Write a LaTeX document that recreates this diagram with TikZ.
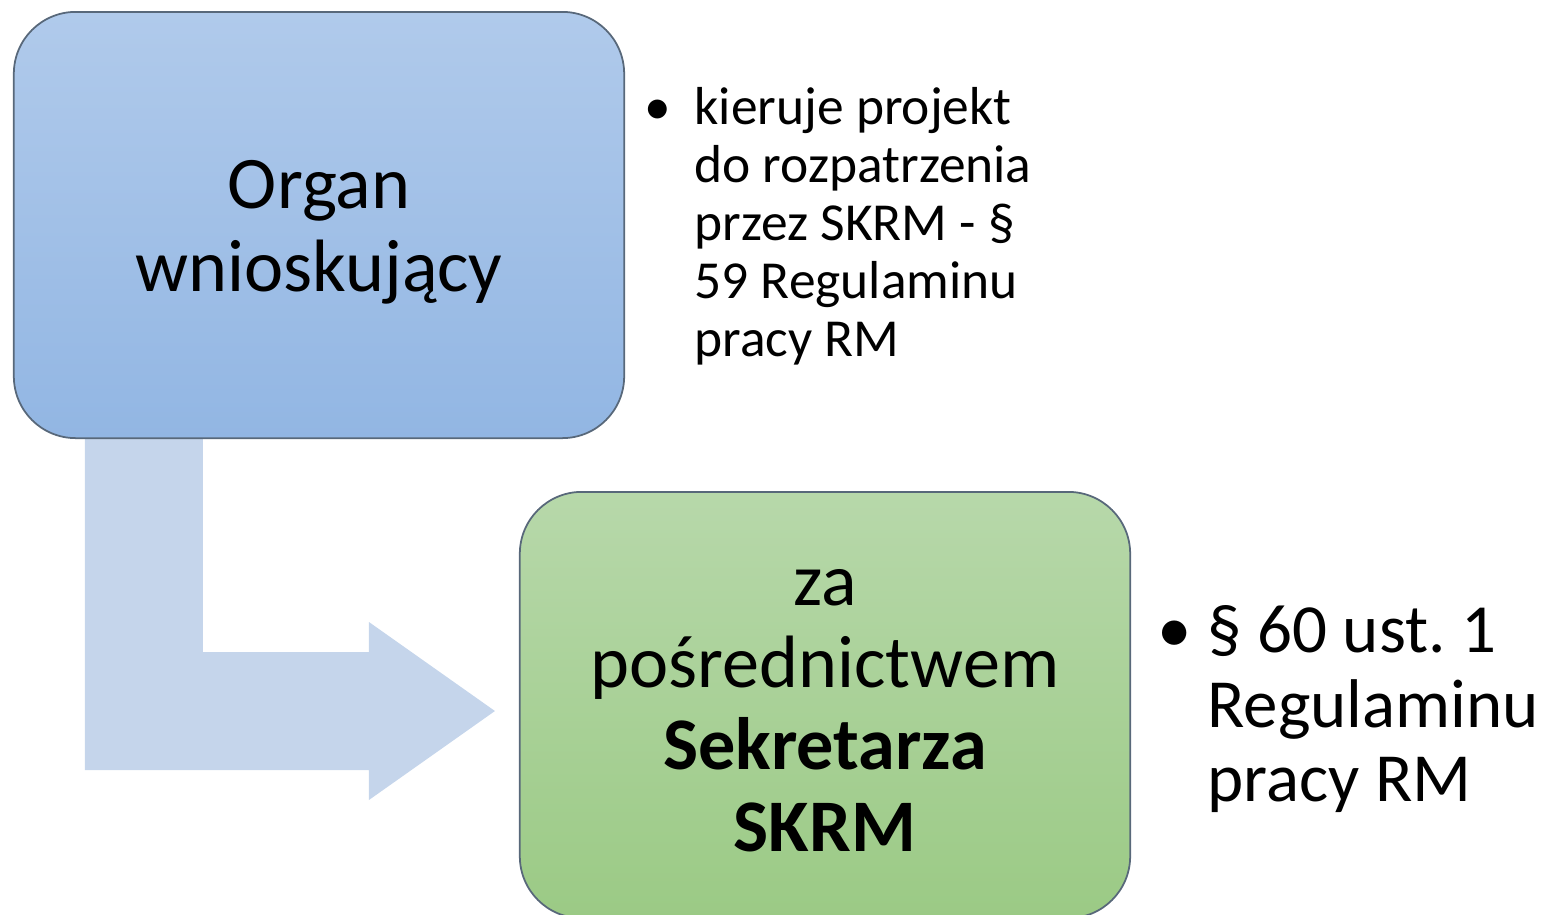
\documentclass[tikz,border=0pt]{standalone}
\usepackage{fontspec}
\setmainfont{Carlito}
\definecolor{organtop}{RGB}{176,202,235}
\definecolor{organbottom}{RGB}{146,182,227}
\definecolor{skrmtop}{RGB}{183,216,170}
\definecolor{skrmbottom}{RGB}{155,202,133}
\definecolor{arrowblue}{RGB}{197,213,235}
\definecolor{boxborder}{RGB}{88,104,122}
\usetikzlibrary{calc,backgrounds}

\begin{document}
\begin{tikzpicture}[x=0.01cm,y=-0.01cm,
    stagebox/.style={draw=boxborder,line width=0.5pt,rounded corners=17.6pt,
        minimum width=6.1cm,minimum height=4.26cm,inner sep=0pt,align=center,
        font=\fontsize{21.1}{23.6}\selectfont},
    notetext/.style={inner sep=0pt,anchor=north west,align=left},
    flowarrow/.style={fill=arrowblue}]
  \useasboundingbox (0,0) rectangle (1544,914);

  % Box 1: organ
  \node[stagebox,top color=organtop,bottom color=organbottom] (organ)
    at (319,225) {\rule{0pt}{17.8pt}Organ\\wnioskujący};

  % Box 2: secretary
  \node[stagebox,top color=skrmtop,bottom color=skrmbottom,
        font=\fontsize{21.1}{23.3}\selectfont] (sekretarz)
    at (825,705) {\rule{0pt}{13.6pt}za\\pośrednictwem\\\textbf{Sekretarza}\\\textbf{SKRM}};

  % Bent arrow between the boxes
  \coordinate (tip) at ($(sekretarz.west)+(-24,6)$);
  \coordinate (shaftL) at ($(organ.south west)+(72,0)$);
  \coordinate (shaftR) at ($(organ.south west)+(190,0)$);
  \begin{scope}[on background layer]
    \fill[flowarrow] (shaftL) -- (shaftR) -- ($(shaftR|-tip)+(0,-59)$)
      -- ($(tip)+(-126,-59)$) -- ($(tip)+(-126,-89)$) -- (tip)
      -- ($(tip)+(-126,89)$) -- ($(tip)+(-126,59)$)
      -- ($(shaftL|-tip)+(0,59)$) -- cycle;
  \end{scope}

  % Notes
  \node[notetext,font=\fontsize{15.2}{16.5}\selectfont] (note1) at (644,83)
    {\begin{tabular}{@{}p{14.2pt}@{}l@{}}
     • & kieruje projekt\\
       & do rozpatrzenia\\
       & przez SKRM - §\\
       & 59 Regulaminu\\
       & pracy RM
     \end{tabular}};
  \node[notetext,font=\fontsize{19.6}{21.3}\selectfont] (note2) at (1157,599)
    {\begin{tabular}{@{}p{14.2pt}@{}l@{}}
     • & § 60 ust.\ 1\\
       & Regulaminu\\
       & pracy RM
     \end{tabular}};
\end{tikzpicture}
\end{document}
